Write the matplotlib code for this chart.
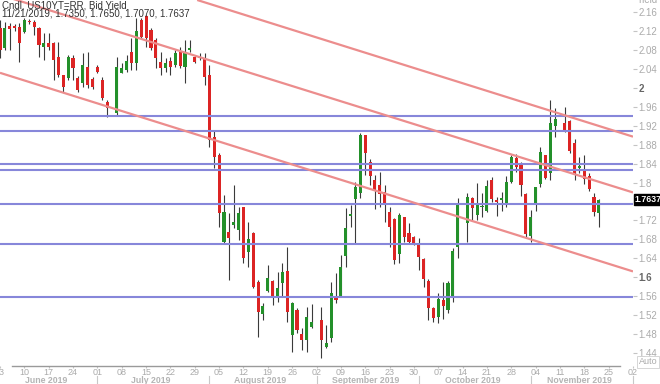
import numpy as np
import pandas as pd
import matplotlib
matplotlib.use("Agg")
import matplotlib.pyplot as plt
from matplotlib import transforms

plt.rcParams["font.family"] = ["Liberation Sans", "DejaVu Sans"]

# daily slots Jun 3 .. Dec 2 2019 (weekdays, holidays left empty)
slots = pd.bdate_range("2019-06-03", "2019-12-02")
nan = np.nan

opens = [2.127, 2.085, 2.131, 2.131, 2.129, 2.119, 2.140, 2.140, 2.127, 2.087,
         2.095, 2.095, 2.065, 2.027, 2.021, 2.063, 2.021, 2.011, 2.044, 2.019,
         2.044, 2.017, 1.970, nan, 1.947, 2.032, 2.038, 2.076, 2.053, 2.144,
         2.152, 2.123, 2.101, 2.055, 2.042, 2.057, 2.049, 2.076, 2.044, 2.080,
         2.065, 2.065, 2.063, 2.027, 1.896, 1.858, 1.674, 1.696, 1.710, 1.700,
         1.748, 1.653, 1.693, 1.590, 1.522, 1.571, 1.592, 1.558, 1.588, 1.613,
         1.478, 1.531, 1.480, 1.467, 1.495, nan, 1.510, 1.453, 1.472, 1.558,
         1.558, 1.645, 1.730, 1.765, 1.778, 1.901, 1.844, 1.806, 1.795, 1.780,
         1.738, 1.723, 1.649, 1.727, 1.693, 1.685, 1.672, 1.638, 1.592, 1.535,
         1.516, 1.552, 1.531, 1.560, 1.664, nan, 1.715, 1.767, 1.731, 1.749,
         1.740, 1.806, 1.763, 1.763, 1.757, 1.801, 1.852, 1.839, 1.776, 1.687,
         1.757, 1.797, 1.858, 1.820, 1.920, nan, 1.926, 1.930, 1.884, 1.831,
         1.824, 1.814, 1.770, 1.735]
highs = [2.144, 2.140, 2.137, 2.135, 2.137, 2.148, 2.145, 2.144, 2.129, 2.116,
         2.116, 2.097, 2.097, 2.027, 2.070, 2.070, 2.025, 2.074, 2.076, 2.023,
         2.049, 2.023, 1.975, nan, 2.065, 2.053, 2.070, 2.106, 2.148, 2.148,
         2.154, 2.127, 2.106, 2.076, 2.063, 2.065, 2.080, 2.087, 2.101, 2.101,
         2.070, 2.074, 2.074, 2.049, 1.911, 1.863, 1.774, 1.736, 1.795, 1.748,
         1.748, 1.717, 1.696, 1.594, 1.545, 1.626, 1.594, 1.611, 1.630, 1.664,
         1.548, 1.535, 1.493, 1.537, 1.543, nan, 1.537, 1.499, 1.590, 1.609,
         1.647, 1.746, 1.753, 1.801, 1.905, 1.901, 1.850, 1.816, 1.822, 1.795,
         1.748, 1.725, 1.736, 1.727, 1.715, 1.687, 1.683, 1.641, 1.596, 1.537,
         1.567, 1.590, 1.592, 1.662, 1.767, nan, 1.778, 1.770, 1.799, 1.778,
         1.806, 1.812, 1.770, 1.780, 1.814, 1.858, 1.860, 1.844, 1.778, 1.742,
         1.791, 1.875, 1.858, 1.975, 1.958, nan, 1.960, 1.932, 1.892, 1.854,
         1.858, 1.820, 1.778, 1.765]
lows = [2.063, 2.080, 2.080, 2.120, 2.055, 2.116, 2.135, 2.112, 2.066, 2.059,
        2.080, 2.017, 2.023, 1.992, 2.017, 2.017, 1.992, 2.002, 2.000, 1.998,
        2.032, 1.975, 1.939, nan, 1.943, 2.032, 2.034, 2.038, 2.038, 2.106,
        2.087, 2.080, 2.042, 2.027, 2.034, 2.027, 2.044, 2.042, 2.011, 2.076,
        2.053, 2.059, 2.006, 1.875, 1.831, 1.706, 1.672, 1.594, 1.704, 1.679,
        1.630, 1.622, 1.577, 1.474, 1.510, 1.569, 1.541, 1.548, 1.558, 1.505,
        1.442, 1.482, 1.446, 1.442, 1.493, nan, 1.429, 1.450, 1.463, 1.545,
        1.558, 1.622, 1.706, 1.670, 1.767, 1.816, 1.795, 1.744, 1.748, 1.717,
        1.664, 1.628, 1.630, 1.674, 1.672, 1.668, 1.615, 1.579, 1.510, 1.505,
        1.503, 1.512, 1.524, 1.548, 1.641, nan, 1.674, 1.721, 1.721, 1.727,
        1.738, 1.759, 1.729, 1.740, 1.748, 1.799, 1.822, 1.772, 1.683, 1.674,
        1.740, 1.791, 1.808, 1.806, 1.896, nan, 1.907, 1.863, 1.806, 1.820,
        1.797, 1.782, 1.729, 1.707]
closes = [2.080, 2.127, 2.125, 2.127, 2.095, 2.144, 2.139, 2.129, 2.091, 2.095,
          2.087, 2.059, 2.027, 2.002, 2.065, 2.042, 1.996, 2.049, 2.006, 2.002,
          2.034, 1.979, 1.958, nan, 2.044, 2.042, 2.057, 2.053, 2.121, 2.108,
          2.106, 2.085, 2.063, 2.042, 2.053, 2.044, 2.074, 2.047, 2.074, 2.084,
          2.055, 2.063, 2.023, 1.890, 1.854, 1.736, 1.738, 1.683, 1.717, 1.736,
          1.641, 1.681, 1.579, 1.526, 1.539, 1.598, 1.558, 1.577, 1.611, 1.526,
          1.545, 1.488, 1.467, 1.516, 1.505, nan, 1.467, 1.461, 1.567, 1.552,
          1.622, 1.704, 1.734, 1.791, 1.901, 1.863, 1.814, 1.784, 1.776, 1.757,
          1.706, 1.636, 1.731, 1.685, 1.674, 1.672, 1.643, 1.596, 1.535, 1.514,
          1.554, 1.539, 1.588, 1.655, 1.753, nan, 1.770, 1.746, 1.753, 1.750,
          1.793, 1.765, 1.759, 1.767, 1.801, 1.854, 1.833, 1.795, 1.691, 1.727,
          1.791, 1.865, 1.810, 1.926, 1.934, nan, 1.911, 1.867, 1.820, 1.835,
          1.808, 1.786, 1.738, 1.7637]

last_price = 1.7637
support_levels = [1.941, 1.909, 1.839, 1.827, 1.755, 1.670, 1.558]
# channel lines: (start slot, start value, end slot, end value)
channel_lines = [(40.5, 2.186, 130.0, 1.897),
                 (0.0, 2.197, 130.0, 1.779),
                 (0.0, 2.032, 130.0, 1.612)]

y_ticks = [1.44, 1.48, 1.52, 1.56, 1.6, 1.64, 1.68, 1.72, 1.8, 1.84, 1.88,
           1.92, 1.96, 2.0, 2.04, 2.08, 2.12, 2.16]
y_labels = ["1.44", "1.48", "1.52", "1.56", "1.6", "1.64", "1.68", "1.72", "1.8",
            "1.84", "1.88", "1.92", "1.96", "2", "2.04", "2.08", "2.12", "2.16"]
day_labels = ["03", "10", "17", "24", "01", "08", "15", "22", "29", "05", "12",
              "19", "26", "02", "09", "16", "23", "30", "07", "14", "21", "28",
              "04", "11", "18", "25", "02"]
month_names = ["June 2019", "July 2019", "August 2019", "September 2019",
               "October 2019", "November 2019"]

RED = "#dc2424"
GREEN = "#23902a"
WICK = "#3a3a3a"
LABEL = "#ababab"

o = np.array(opens)
h = np.array(highs)
l = np.array(lows)
c = np.array(closes)
idx = np.arange(len(o))
ok = ~np.isnan(o)

fig = plt.figure(figsize=(6.6, 3.84), dpi=100)
ax = fig.add_axes([0, 18 / 384, 633 / 660, 366 / 384])

ax.vlines(idx[ok], l[ok], h[ok], color=WICK, lw=0.8, zorder=2)
body_lo = np.minimum(o, c)
body_h = np.maximum(np.abs(c - o), 0.0018)
cols = np.where(c >= o, GREEN, RED)
ax.bar(idx[ok], body_h[ok], bottom=body_lo[ok], width=0.64, color=cols[ok],
       linewidth=0, zorder=3)

for lvl in support_levels:
    ax.axhline(lvl, color="#8787da", lw=1.5, zorder=4)
for x0, y0, x1, y1 in channel_lines:
    ax.plot([x0, x1], [y0, y1], color="#ec8d8d", lw=1.6, zorder=4,
            solid_capstyle="butt")

ax.set_xlim(0.05, 130.0)
ax.set_ylim(1.412, 2.186)
for s in ax.spines.values():
    s.set_visible(False)

ax.yaxis.tick_right()
ax.set_yticks(y_ticks)
ax.set_yticklabels(y_labels)
ax.tick_params(axis="y", length=3, width=0.8, color="#c4c4c4", labelsize=7,
               labelcolor=LABEL, pad=1)
for t in ax.get_yticklabels():
    if t.get_text() in ("2", "1.6"):
        t.set_fontweight("bold")
        t.set_color("#666666")

ax.set_xticks(np.arange(0, 131, 5))
ax.set_xticklabels(day_labels)
ax.tick_params(axis="x", length=1.5, width=0.8, color="#c4c4c4", labelsize=6.5,
               labelcolor=LABEL, pad=0)

ax.plot([12 / 633, 620 / 633], [0, 0], transform=ax.transAxes, color="#9a9a9a",
        lw=1, clip_on=False)

# month captions and separators under the day labels
tr = transforms.blended_transform_factory(ax.transData, ax.transAxes)
months = slots.to_period("M")
for name, per in zip(month_names, months.unique()):
    pos = np.where(months == per)[0]
    ax.text(pos.mean(), -0.039, name, transform=tr, ha="center", va="center",
            fontsize=6.3, fontweight="bold", color="#b4b4b4")
    if pos[0] > 0:
        ax.plot([pos[0], pos[0]], [-0.028, -0.05], transform=tr,
                color="#c8c8c8", lw=0.8, clip_on=False)
ax.plot([130, 130], [-0.028, -0.05], transform=tr, color="#c8c8c8", lw=0.8,
        clip_on=False)

trp = transforms.blended_transform_factory(ax.transAxes, ax.transData)
ax.text(1.0025, last_price, f"{last_price:.4f}", transform=trp, ha="left",
        va="center", fontsize=6.3, fontweight="bold", color="white", zorder=10,
        bbox=dict(boxstyle="square,pad=0.12", fc="black", ec="black"))

fig.text(2 / 660, 1 - 5 / 384, "Cndl, US10YT=RR, Bid Yield", ha="left",
         va="center", fontsize=7, color="#333333")
fig.text(2 / 660, 1 - 14 / 384, "11/21/2019, 1.7350, 1.7650, 1.7070, 1.7637",
         ha="left", va="center", fontsize=7, color="#333333")
fig.text(647 / 660, 1.0, "Yield", ha="center", va="center", fontsize=7,
         color=LABEL)
fig.text(648 / 660, 1 - 362 / 384, "Auto", ha="center", va="center",
         fontsize=6.5, color=LABEL,
         bbox=dict(boxstyle="square,pad=0.15", fc="white", ec="#d0d0d0", lw=0.6))

fig.savefig("out.png", dpi=100)
